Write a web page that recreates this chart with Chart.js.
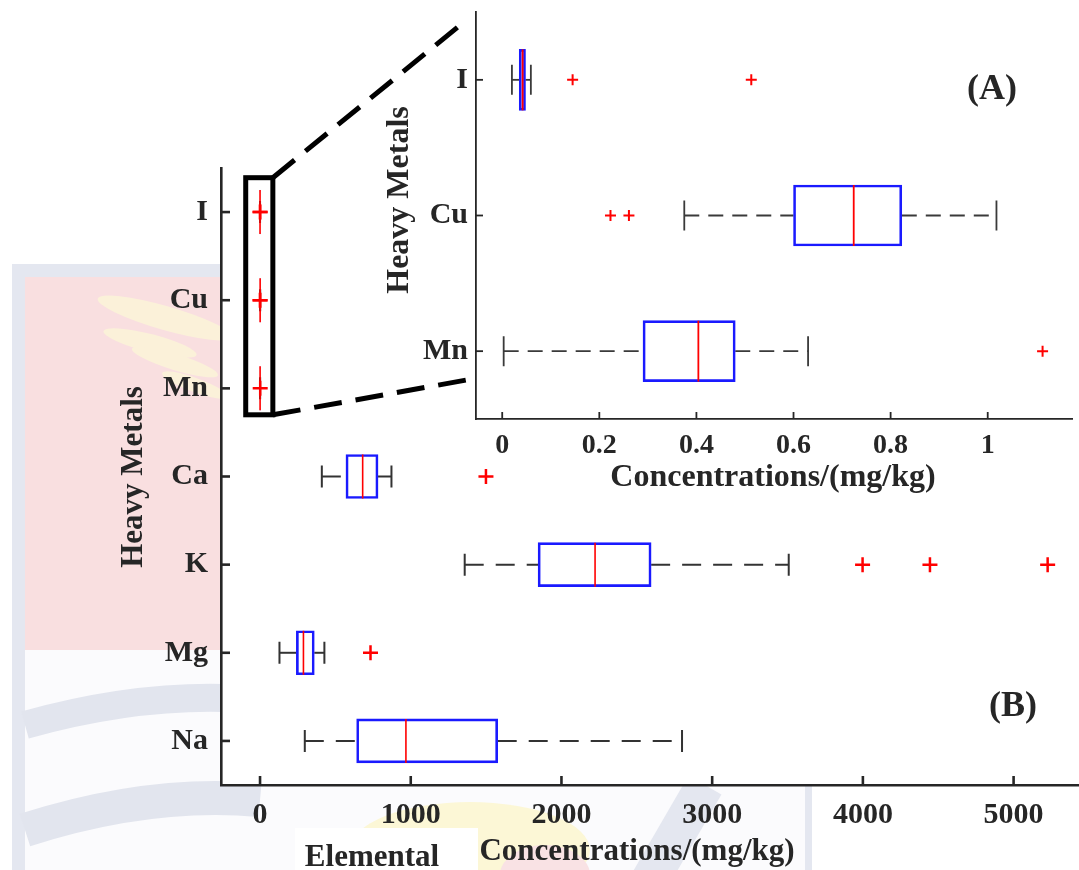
<!DOCTYPE html>
<html><head><meta charset="utf-8">
<script src="https://cdn.jsdelivr.net/npm/chart.js@4.4.0/dist/chart.umd.min.js"></script>
<style>
html,body{margin:0;padding:0;background:#fff;}
#wrap{position:relative;width:1079px;height:870px;overflow:hidden;}
.layer{position:absolute;left:0;top:0;width:1079px;height:870px;}
</style></head><body>
<div id="wrap">
<div class="layer"><canvas id="main" width="1079" height="870"></canvas></div>
<div class="layer"><canvas id="inset" width="1079" height="870"></canvas></div>
</div>
<script>
// ---- data: heavy metals (inset A, and collapsed near 0 in B) ----
const heavyMetals   = ['I', 'Cu', 'Mn'];
const heavyLower    = [0.020, 0.375, 0.003];
const heavyQ1       = [0.035, 0.600, 0.290];
const heavyMedian   = [0.042, 0.724, 0.404];
const heavyQ3       = [0.048, 0.823, 0.480];
const heavyUpper    = [0.059, 1.018, 0.630];
const heavyOutliers = [[0.145, 0.513], [0.223, 0.261], [1.113]];

// ---- data: major elements (B) ----
const majorElements = ['Ca', 'K', 'Mg', 'Na'];
const majorLower    = [410, 1358, 129, 297];
const majorQ1       = [570, 1845, 241, 641];
const majorMedian   = [681, 2223, 288, 968];
const majorQ3       = [783, 2595, 360, 1577];
const majorUpper    = [872, 3508, 427, 2800];
const majorOutliers = [[1499], [3998, 4445, 5226], [733], []];

// ---- tick labels ----
const mainTicks  = [0, 1000, 2000, 3000, 4000, 5000];
const insetTicks = [0, 0.2, 0.4, 0.6, 0.8, 1];
const mainRange  = [-259, 5434];
const insetRange = [-0.054, 1.1736];
// zoom frame drawn around heavy metals in B (data units)
const zoomFrameX = [-95, 85];
const zoomFrameY = [-0.39, 2.3];

const FONT = "'Liberation Serif','Times New Roman',Times,serif";
const INK = '#262626';

const mainCats = heavyMetals.concat(majorElements);
const mainLo = heavyLower.concat(majorLower);
const mainQ1 = heavyQ1.concat(majorQ1);
const mainMed = heavyMedian.concat(majorMedian);
const mainQ3 = heavyQ3.concat(majorQ3);
const mainHi = heavyUpper.concat(majorUpper);
const mainOut = heavyOutliers.concat(majorOutliers);

function feather(ctx, x, y, rx, ry, rot) {
  ctx.beginPath(); ctx.ellipse(x, y, rx, ry, rot, 0, Math.PI * 2); ctx.fill();
}

function drawWatermark(ctx) {
  ctx.save();
  // outer light frame
  ctx.fillStyle = '#e4e7f0';
  ctx.fillRect(12, 264, 800, 620);
  // pink field
  ctx.fillStyle = '#f9dfe0';
  ctx.fillRect(25, 277, 780, 373);
  // lower pale field
  ctx.fillStyle = '#fbfbfd';
  ctx.fillRect(25, 650, 780, 240);
  // sweeping lavender bands
  ctx.strokeStyle = '#e2e5ee';
  ctx.lineWidth = 28;
  ctx.beginPath(); ctx.moveTo(25, 725); ctx.quadraticCurveTo(150, 690, 260, 700); ctx.stroke();
  ctx.lineWidth = 34;
  ctx.beginPath(); ctx.moveTo(25, 830); ctx.quadraticCurveTo(150, 790, 260, 800); ctx.stroke();
  // pale yellow feathers on pink
  ctx.fillStyle = '#fbf1d9';
  feather(ctx, 165, 318, 70, 12, 0.28);
  feather(ctx, 150, 343, 48, 9, 0.25);
  feather(ctx, 175, 362, 45, 8, 0.3);
  feather(ctx, 195, 385, 35, 7, 0.35);
  // below the axes
  ctx.fillStyle = '#fcf7d6';
  feather(ctx, 470, 850, 120, 48, 0);
  ctx.fillStyle = '#f9e2e4';
  feather(ctx, 545, 875, 45, 30, 0);
  ctx.strokeStyle = '#e4e7f0';
  ctx.lineWidth = 38;
  ctx.beginPath(); ctx.moveTo(705, 785); ctx.lineTo(650, 880); ctx.stroke();
  ctx.restore();
}

function boxPlugin(p) {
  return {
    id: 'boxDecor' + p.name,
    beforeDraw(chart) {
      const ctx = chart.ctx, a = chart.chartArea;
      ctx.save();
      if (p.watermark) p.watermark(ctx);
      ctx.fillStyle = '#ffffff';
      ctx.fillRect(a.left, a.top, a.right - a.left, a.bottom - a.top);
      ctx.restore();
    },
    beforeDatasetsDraw(chart) {
      const ctx = chart.ctx, xs = chart.scales.x, ys = chart.scales.y;
      ctx.save();
      ctx.strokeStyle = p.whiskerColor;
      ctx.lineWidth = p.whiskerWidth;
      p.cats.forEach((c, i) => {
        const y = ys.getPixelForValue(i);
        const xl = xs.getPixelForValue(p.lo[i]), x1 = xs.getPixelForValue(p.q1[i]);
        const x3 = xs.getPixelForValue(p.q3[i]), xh = xs.getPixelForValue(p.hi[i]);
        ctx.setLineDash(p.dash);
        ctx.beginPath(); ctx.moveTo(xl, y); ctx.lineTo(x1, y); ctx.stroke();
        ctx.beginPath(); ctx.moveTo(x3, y); ctx.lineTo(xh, y); ctx.stroke();
        ctx.setLineDash([]);
        ctx.beginPath();
        ctx.moveTo(xl, y - p.capHalf); ctx.lineTo(xl, y + p.capHalf);
        ctx.moveTo(xh, y - p.capHalf); ctx.lineTo(xh, y + p.capHalf);
        ctx.stroke();
      });
      ctx.restore();
    },
    afterDatasetsDraw(chart) {
      const ctx = chart.ctx, xs = chart.scales.x, ys = chart.scales.y;
      ctx.save();
      ctx.strokeStyle = '#ff0000';
      ctx.lineWidth = p.medianWidth;
      p.cats.forEach((c, i) => {
        const y = ys.getPixelForValue(i);
        const xm = xs.getPixelForValue(p.med[i]);
        ctx.beginPath(); ctx.moveTo(xm, y - p.boxH / 2); ctx.lineTo(xm, y + p.boxH / 2); ctx.stroke();
      });
      ctx.restore();
    },
    afterDraw(chart) {
      const ctx = chart.ctx, xs = chart.scales.x, ys = chart.scales.y, a = chart.chartArea;
      ctx.save();
      ctx.strokeStyle = INK;
      ctx.lineWidth = p.tickWidth;
      p.cats.forEach((c, i) => {
        const y = ys.getPixelForValue(i);
        ctx.beginPath(); ctx.moveTo(a.left, y); ctx.lineTo(a.left + p.tickLen, y); ctx.stroke();
      });
      p.ticks.forEach(v => {
        const x = xs.getPixelForValue(v);
        ctx.beginPath(); ctx.moveTo(x, a.bottom); ctx.lineTo(x, a.bottom - p.tickLen); ctx.stroke();
      });
      ctx.restore();
      if (p.extra) p.extra(chart);
    }
  };
}

function text(ctx, s, x, y, size, rot) {
  ctx.save();
  ctx.translate(x, y);
  if (rot) ctx.rotate(rot);
  ctx.font = 'bold ' + size + 'px ' + FONT;
  ctx.fillStyle = INK;
  ctx.textAlign = 'center';
  ctx.textBaseline = 'middle';
  ctx.fillText(s, 0, 0);
  ctx.restore();
}

function makeConfig(p) {
  const outPts = [];
  p.out.forEach((arr, i) => arr.forEach(v => outPts.push({ x: v, y: p.cats[i] })));
  return {
    type: 'bar',
    data: {
      labels: p.cats,
      datasets: [
        {
          type: 'line', indexAxis: 'y', data: outPts, showLine: false, order: 0,
          pointStyle: 'cross', pointRadius: p.crossR, pointHoverRadius: p.crossR,
          pointBorderColor: '#ff0000', pointBorderWidth: p.crossW, clip: false
        },
        {
          type: 'bar', data: p.cats.map((c, i) => [p.q1[i], p.q3[i]]), order: 1,
          backgroundColor: 'rgba(0,0,0,0)', borderColor: '#1a1aff', borderWidth: p.boxBorder,
          borderSkipped: false, barThickness: p.boxH
        }
      ]
    },
    options: {
      indexAxis: 'y', responsive: false, animation: false, events: [],
      layout: { padding: p.padding, autoPadding: false },
      plugins: { legend: { display: false }, tooltip: { enabled: false } },
      scales: {
        y: {
          type: 'category', offset: true,
          grid: { display: false, drawTicks: false },
          border: { display: true, color: INK, width: p.axisWidth },
          ticks: { color: INK, padding: p.yPad, font: { family: FONT, size: p.yFont, weight: 'bold' } },
          afterFit: s => { s.width = p.yWidth; s.paddingTop = 0; s.paddingBottom = 0; }
        },
        x: {
          type: 'linear', min: p.range[0], max: p.range[1],
          grid: { display: false, drawTicks: false },
          border: { display: true, color: INK, width: p.axisWidth },
          ticks: { color: INK, padding: p.xPad, maxRotation: 0, autoSkip: false,
                   font: { family: FONT, size: p.xFont, weight: 'bold' },
                   callback: v => String(v) },
          afterBuildTicks: s => { s.ticks = p.ticks.map(v => ({ value: v })); },
          afterFit: s => { s.height = p.xHeight; s.paddingLeft = 0; s.paddingRight = 0; }
        }
      }
    },
    plugins: [boxPlugin(p)]
  };
}

const mainParams = {
  name: 'Main', cats: mainCats, lo: mainLo, q1: mainQ1, med: mainMed, q3: mainQ3, hi: mainHi, out: mainOut,
  ticks: mainTicks, range: mainRange,
  padding: { left: 0, top: 168, right: 0, bottom: 0 }, yWidth: 221, xHeight: 85,
  boxH: 44, capHalf: 11, dash: [19, 12], whiskerColor: '#333333', whiskerWidth: 2,
  medianWidth: 1.6, boxBorder: 2, crossR: 7.5, crossW: 2.5,
  axisWidth: 2.6, tickWidth: 2.6, tickLen: 9, yFont: 30, xFont: 30, yPad: 13, xPad: 12,
  watermark: drawWatermark,
  extra(chart) {
    const ctx = chart.ctx, xs = chart.scales.x, ys = chart.scales.y;
    // zoom frame
    ctx.save();
    ctx.strokeStyle = '#000';
    ctx.lineWidth = 5;
    const fx0 = xs.getPixelForValue(zoomFrameX[0]), fx1 = xs.getPixelForValue(zoomFrameX[1]);
    const fy0 = ys.getPixelForValue(zoomFrameY[0]), fy1 = ys.getPixelForValue(zoomFrameY[1]);
    ctx.strokeRect(fx0, fy0, fx1 - fx0, fy1 - fy0);
    ctx.restore();
    text(ctx, 'Heavy Metals', 134, 477, 31, -Math.PI / 2);
    text(ctx, 'Concentrations/(mg/kg)', 637, 852, 31);
    ctx.save();
    ctx.fillStyle = '#ffffff';
    ctx.fillRect(295, 828, 183, 42);
    ctx.restore();
    text(ctx, 'Elemental', 372, 858, 31);
    text(ctx, '(B)', 1013, 707, 36);
  }
};
const mainChart = new Chart(document.getElementById('main'), makeConfig(mainParams));

const insetParams = {
  name: 'Inset', cats: heavyMetals, lo: heavyLower, q1: heavyQ1, med: heavyMedian, q3: heavyQ3, hi: heavyUpper, out: heavyOutliers,
  ticks: insetTicks, range: insetRange,
  padding: { left: 330, top: 12, right: 7, bottom: 381 }, yWidth: 146, xHeight: 70,
  boxH: 61, capHalf: 15, dash: [15, 9], whiskerColor: '#3a3a3a', whiskerWidth: 1.8,
  medianWidth: 1.8, boxBorder: 2, crossR: 5.5, crossW: 2,
  axisWidth: 1.8, tickWidth: 1.8, tickLen: 7, yFont: 30, xFont: 28, yPad: 8, xPad: 10,
  extra(chart) {
    const ctx = chart.ctx, xs = chart.scales.x, ys = chart.scales.y, a = chart.chartArea;
    text(ctx, 'Heavy Metals', 400, 200, 32, -Math.PI / 2);
    text(ctx, 'Concentrations/(mg/kg)', 773, 478, 32);
    text(ctx, '(A)', 992, 90, 36);
    // dashed connectors from zoom frame in B to inset A
    const mx = mainChart.scales.x, my = mainChart.scales.y;
    const fx1 = mx.getPixelForValue(zoomFrameX[1]);
    const fy0 = my.getPixelForValue(zoomFrameY[0]), fy1 = my.getPixelForValue(zoomFrameY[1]);
    ctx.save();
    ctx.strokeStyle = '#000';
    ctx.lineWidth = 5;
    ctx.setLineDash([28, 14]);
    ctx.beginPath(); ctx.moveTo(fx1, fy0); ctx.lineTo(a.left - 8, ys.getPixelForValue(-0.45)); ctx.stroke();
    ctx.beginPath(); ctx.moveTo(fx1, fy1); ctx.lineTo(a.left, ys.getPixelForValue(2.2)); ctx.stroke();
    ctx.restore();
  }
};
const insetChart = new Chart(document.getElementById('inset'), makeConfig(insetParams));
</script>
</body></html>
